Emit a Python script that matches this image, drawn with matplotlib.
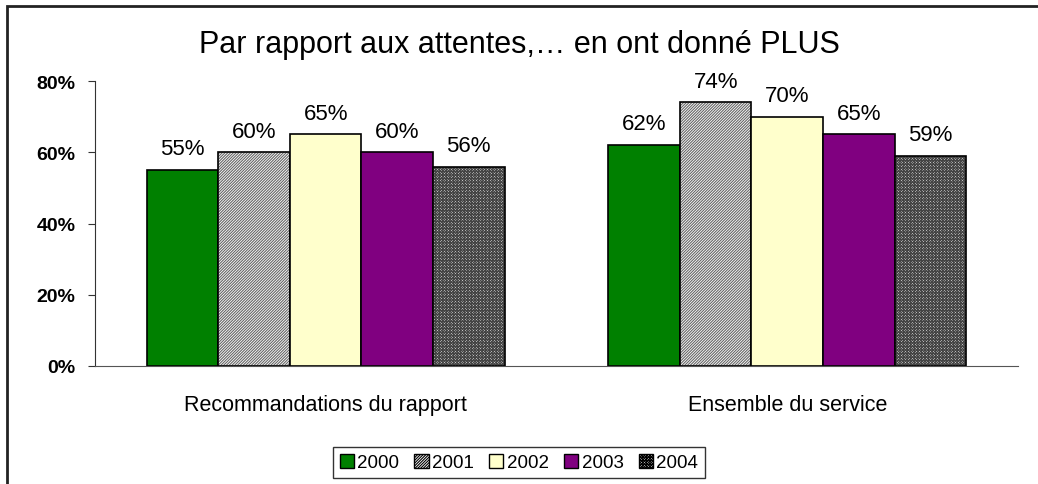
import numpy as np
import matplotlib.pyplot as plt
from matplotlib.patches import Rectangle, Patch

plt.rcParams['font.family'] = ['Liberation Sans', 'DejaVu Sans']
plt.rcParams['hatch.linewidth'] = 0.8

categories = ['Recommandations du rapport', 'Ensemble du service']
years = ['2000', '2001', '2002', '2003', '2004']
values = {
    '2000': [0.55, 0.62],
    '2001': [0.60, 0.74],
    '2002': [0.65, 0.70],
    '2003': [0.60, 0.65],
    '2004': [0.56, 0.59],
}
colors = ['#008000', 'white', '#FFFFCC', '#800080', 'white']
hatches = [None, '/' * 12, None, None, 'x' * 12]
hatch_cols = [None, '#666666', None, None, '#444444']

fig = plt.figure(figsize=(10.38, 4.85), dpi=100)
ax = fig.add_axes([0.0915, 0.2433, 0.8892, 0.5876])

x = np.arange(len(categories))
w = 0.155
for i, yr in enumerate(years):
    pos = x + (i - 2) * w
    if hatches[i]:
        ax.bar(pos, values[yr], w, color=colors[i], hatch=hatches[i],
               edgecolor=hatch_cols[i], linewidth=0)
        ax.bar(pos, values[yr], w, fill=False, edgecolor='black', linewidth=1.2)
    else:
        ax.bar(pos, values[yr], w, color=colors[i], edgecolor='black', linewidth=1.2)
    for px, v in zip(pos, values[yr]):
        ax.text(px, v + 0.03, f'{v*100:.0f}%', ha='center', va='bottom', fontsize=16)

ax.set_xlim(-0.5, 1.5)
ax.set_ylim(0, 0.8)
ax.set_yticks([0, 0.2, 0.4, 0.6, 0.8])
ax.set_yticklabels(['0%', '20%', '40%', '60%', '80%'], fontweight='bold', fontsize=14)
ax.set_xticks(x)
ax.set_xticklabels(categories, fontsize=15.5)
ax.tick_params(axis='x', length=0, pad=20)
ax.tick_params(axis='y', direction='out', length=5, color='#333333', pad=9)
for s in ['top', 'right']:
    ax.spines[s].set_visible(False)
ax.spines['left'].set_color('#333333')
ax.spines['bottom'].set_color('#555555')

fig.text(0.5, 0.907, 'Par rapport aux attentes,… en ont donné PLUS',
         ha='center', va='center', fontsize=22)

# legend
handles = []
for i, yr in enumerate(years):
    handles.append(Patch(facecolor=colors[i], edgecolor='black',
                         hatch=hatches[i], label=yr))
leg = fig.legend(handles=handles, loc='center', bbox_to_anchor=(0.5, 0.0443),
                 ncol=5, fontsize=13.5, frameon=True, fancybox=False,
                 handlelength=0.75, handleheight=0.75, handletextpad=0.2,
                 columnspacing=0.8, borderpad=0.35)
leg.get_frame().set_edgecolor('black')
leg.get_frame().set_linewidth(1)

# outer frame
fig.patches.append(Rectangle((7 / 1038, -0.05), 1.1, 1 - 7 / 485 + 0.05,
                             transform=fig.transFigure, fill=False,
                             edgecolor='#222222', linewidth=2, clip_on=False))

fig.savefig('out.png', dpi=100)
